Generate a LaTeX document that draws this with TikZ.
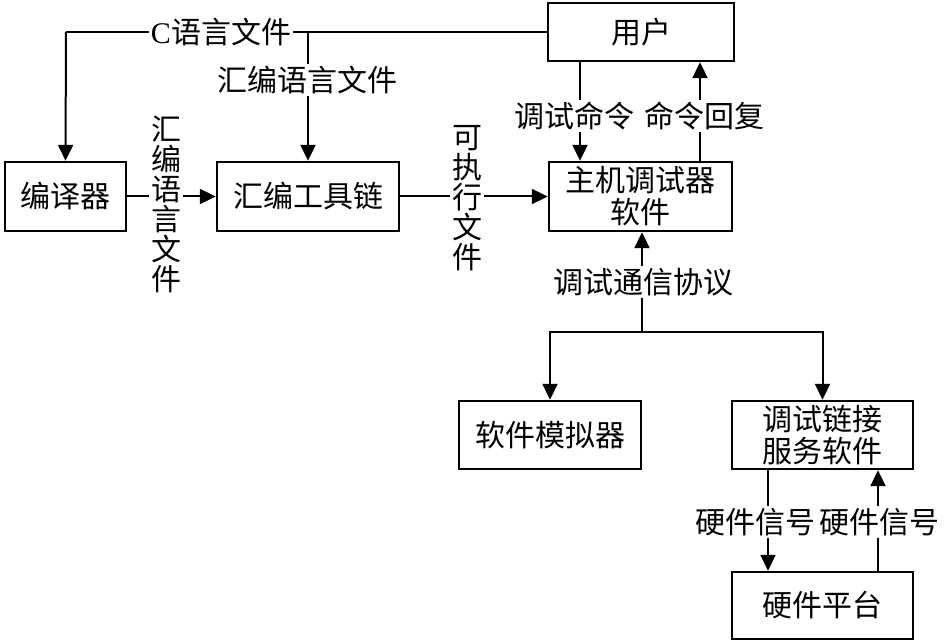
\documentclass[tikz,border=0pt]{standalone}
\usepackage{fontspec}
\setmainfont{Noto Sans CJK SC}
\newfontfamily\latin{Liberation Serif}
\usetikzlibrary{arrows.meta}

\tikzset{
  boite/.style={draw,line width=2.4pt,minimum width=#1,minimum height=69pt,inner sep=0pt,align=center},
  trait/.style={line width=2pt},
  lien/.style={line width=2pt,-{Triangle[length=16pt,width=15pt]}},
  etiq/.style={fill=white,inner sep=2pt,align=center},
  vert/.style={etiq,font=\fontsize{30}{30}\selectfont},
}

\begin{document}
\begin{tikzpicture}[x=1pt,y=1pt,font=\fontsize{30}{32}\selectfont]
\useasboundingbox (0,0) rectangle (946,642);
%					Tracé des boîtes :
\node[boite=121pt] (comp) at (65.5,445.5) {编译器};
\node[boite=182pt] (asm) at (308,445.5) {汇编工具链};
\node[boite=186pt,minimum height=58pt] (user) at (641,610) {用户};
\node[boite=183pt] (host) at (640.5,445.5) {主机调试器\\软件};
\node[boite=182pt,minimum height=68pt] (sim) at (550,207) {软件模拟器};
\node[boite=181pt,minimum height=68pt] (link) at (822.5,207) {调试链接\\服务软件};
\node[boite=181pt,minimum height=67pt] (hw) at (822.5,36.5) {硬件平台};
%					Fichiers sources :
\coordinate (cg) at (66,610);
\coordinate (cb) at (308,610);
\draw[trait] (user.west) -- (cg);
\draw[lien] (cg) -- (comp.north);
\draw[lien] (cb) -- (asm.north);
\node[etiq] (lc) at (221,610) {{\latin C}语言文件};
\node[etiq] (la) at (307,562) {汇编语言文件};
%					Chaîne de compilation :
\draw[lien] (comp) -- (asm);
\draw[lien] (asm) -- (host);
\node[vert] (lasm) at (166,438) {汇\\编\\语\\言\\文\\件};
\node[vert] (lexe) at (467,444) {可\\执\\行\\文\\件};
%					Dialogue avec l'utilisateur :
\coordinate (xcmd) at (580,0);
\coordinate (xrep) at (700,0);
\draw[lien] (user.south -| xcmd) -- (host.north -| xcmd);
\draw[lien] (host.north -| xrep) -- (user.south -| xrep);
\node[etiq] (lcmd) at (574,526) {调试命令};
\node[etiq] (lrep) at (704,526) {命令回复};
%					Protocole de débogage :
\coordinate (bus) at (642,310);
\draw[lien] (bus) -- (host.south -| bus);
\draw[lien] (bus) -| (sim.north);
\draw[lien] (bus) -| (link.north);
\node[etiq] (lproto) at (643,360) {调试通信协议};
%					Signaux matériels :
\coordinate (xsig) at (768,0);
\coordinate (xack) at (878,0);
\draw[lien] (link.south -| xsig) -- (hw.north -| xsig);
\draw[lien] (hw.north -| xack) -- (link.south -| xack);
\node[etiq] (lsig) at (755,120) {硬件信号};
\node[etiq] (lack) at (879,120) {硬件信号};
\end{tikzpicture}
\end{document}
